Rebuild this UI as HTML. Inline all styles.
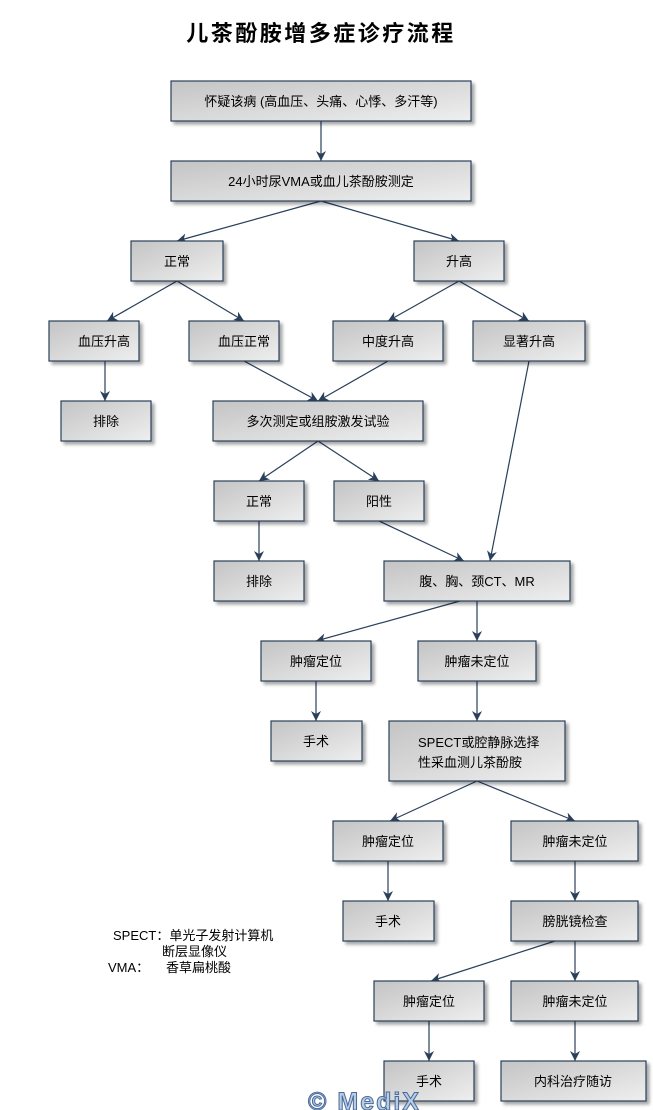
<!DOCTYPE html>
<html><head><meta charset="utf-8"><style>
html,body{margin:0;padding:0;background:#fff;width:653px;height:1110px;overflow:hidden}
svg text{font-family:"Liberation Sans","Noto Sans CJK SC",sans-serif;font-size:13px;fill:#000}
</style></head><body>
<svg width="653" height="1110" xmlns="http://www.w3.org/2000/svg">
<defs>
<linearGradient id="g" x1="0" y1="0" x2="1" y2="1"><stop offset="0" stop-color="#c4c4c4"/><stop offset="1" stop-color="#efefef"/></linearGradient>
<marker id="a" markerWidth="10" markerHeight="10" refX="10" refY="5" orient="auto" markerUnits="userSpaceOnUse"><path d="M0,0 L10,5 L0,10 L3,5 z" fill="#2a3f5a"/></marker>
<filter id="s" x="-10%" y="-10%" width="130%" height="140%"><feDropShadow dx="3" dy="3" stdDeviation="1.5" flood-color="#000" flood-opacity="0.35"/></filter>
</defs>
<text x="321" y="41" text-anchor="middle" style="font-size:22px;font-weight:bold;letter-spacing:2.5px">儿茶酚胺增多症诊疗流程</text>
<g stroke="#2a3f5a" stroke-width="1.2" fill="none" marker-end="url(#a)">
<line x1="321" y1="121" x2="321" y2="161"/>
<line x1="321" y1="201" x2="177" y2="241"/>
<line x1="321" y1="201" x2="459" y2="241"/>
<line x1="177" y1="281" x2="107" y2="321"/>
<line x1="177" y1="281" x2="244" y2="321"/>
<line x1="459" y1="281" x2="388" y2="321"/>
<line x1="459" y1="281" x2="529" y2="321"/>
<line x1="105" y1="361" x2="105" y2="401"/>
<line x1="244" y1="361" x2="318" y2="401"/>
<line x1="388" y1="361" x2="318" y2="401"/>
<line x1="318" y1="441" x2="259" y2="481"/>
<line x1="318" y1="441" x2="379" y2="481"/>
<line x1="259" y1="521" x2="259" y2="561"/>
<line x1="379" y1="521" x2="464" y2="561"/>
<line x1="529" y1="361" x2="490" y2="561"/>
<line x1="460" y1="601" x2="316" y2="641"/>
<line x1="477" y1="601" x2="477" y2="641"/>
<line x1="316" y1="681" x2="316" y2="721"/>
<line x1="477" y1="681" x2="477" y2="721"/>
<line x1="477" y1="781" x2="390" y2="821"/>
<line x1="477" y1="781" x2="575" y2="821"/>
<line x1="388" y1="861" x2="388" y2="901"/>
<line x1="575" y1="861" x2="575" y2="901"/>
<line x1="555" y1="941" x2="431" y2="981"/>
<line x1="575" y1="941" x2="575" y2="981"/>
<line x1="429" y1="1021" x2="429" y2="1061"/>
<line x1="575" y1="1021" x2="575" y2="1061"/>
</g>
<g fill="url(#g)" stroke="#2a3f5a" stroke-width="1.2" filter="url(#s)">
<rect x="171" y="81" width="300" height="40"/>
<rect x="171" y="161" width="300" height="40"/>
<rect x="131" y="241" width="92" height="40"/>
<rect x="414" y="241" width="90" height="40"/>
<rect x="49" y="321" width="90" height="40"/>
<rect x="189" y="321" width="90" height="40"/>
<rect x="333" y="321" width="110" height="40"/>
<rect x="473" y="321" width="112" height="40"/>
<rect x="61" y="401" width="90" height="40"/>
<rect x="213" y="401" width="210" height="40"/>
<rect x="214" y="481" width="90" height="40"/>
<rect x="334" y="481" width="90" height="40"/>
<rect x="214" y="561" width="90" height="40"/>
<rect x="384" y="561" width="186" height="40"/>
<rect x="261" y="641" width="110" height="40"/>
<rect x="418" y="641" width="118" height="40"/>
<rect x="271" y="721" width="91" height="40"/>
<rect x="389" y="721" width="176" height="60"/>
<rect x="333" y="821" width="110" height="40"/>
<rect x="511" y="821" width="127" height="40"/>
<rect x="343" y="901" width="91" height="40"/>
<rect x="511" y="901" width="127" height="40"/>
<rect x="374" y="981" width="110" height="40"/>
<rect x="511" y="981" width="127" height="40"/>
<rect x="384" y="1061" width="90" height="40"/>
<rect x="501" y="1061" width="145" height="40"/>
</g>
<g text-anchor="middle">
<text x="321" y="106">怀疑该病 (高血压、头痛、心悸、多汗等)</text>
<text x="321" y="186">24小时尿VMA或血儿茶酚胺测定</text>
<text x="177" y="266">正常</text>
<text x="459" y="266">升高</text>
<text x="104" y="346">血压升高</text>
<text x="244" y="346">血压正常</text>
<text x="388" y="346">中度升高</text>
<text x="529" y="346">显著升高</text>
<text x="106" y="426">排除</text>
<text x="318" y="426">多次测定或组胺激发试验</text>
<text x="259" y="506">正常</text>
<text x="379" y="506">阳性</text>
<text x="259" y="586">排除</text>
<text x="477" y="586">腹、胸、颈CT、MR</text>
<text x="316" y="666">肿瘤定位</text>
<text x="477" y="666">肿瘤未定位</text>
<text x="316" y="746">手术</text>
<text x="388" y="846">肿瘤定位</text>
<text x="575" y="846">肿瘤未定位</text>
<text x="388" y="926">手术</text>
<text x="575" y="926">膀胱镜检查</text>
<text x="429" y="1006">肿瘤定位</text>
<text x="575" y="1006">肿瘤未定位</text>
<text x="429" y="1086">手术</text>
<text x="573" y="1086">内科治疗随访</text>
</g>
<text x="418" y="747">SPECT或腔静脉选择</text>
<text x="418" y="767">性采血测儿茶酚胺</text>
<text x="113" y="940">SPECT：单光子发射计算机</text>
<text x="162" y="956">断层显像仪</text>
<text x="108" y="972">VMA：</text>
<text x="166" y="972">香草扁桃酸</text>
<text x="308" y="1110" style="font-size:25px;font-weight:bold;letter-spacing:2px;fill:#b8cce4;stroke:#4a6a9a;stroke-width:1">© MediX</text>
</svg>
</body></html>
